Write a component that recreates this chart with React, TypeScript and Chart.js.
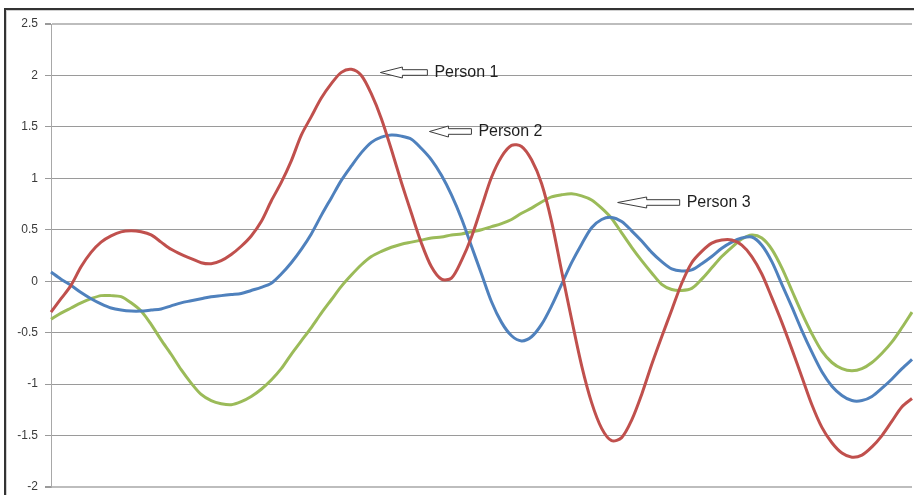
import React, { useEffect, useRef } from "react";
import { Chart, registerables } from "chart.js";

Chart.register(...registerables);

// Sample index along the horizontal axis (no labels shown on this axis)
const samples: number[] = Array.from({ length: 87 }, (_, i) => i + 1);

const person1: number[] = [
  -0.30, -0.17, -0.04, 0.14, 0.28, 0.38, 0.44, 0.48, 0.49, 0.48,
  0.45, 0.38, 0.31, 0.26, 0.22, 0.18, 0.17, 0.20, 0.26, 0.34,
  0.44, 0.58, 0.78, 0.96, 1.17, 1.42, 1.60, 1.78, 1.92, 2.03,
  2.06, 2.00, 1.82, 1.58, 1.28, 0.96, 0.66, 0.37, 0.14, 0.02,
  0.03, 0.20, 0.43, 0.72, 1.01, 1.21, 1.32, 1.31, 1.18, 0.95,
  0.58, 0.10, -0.37, -0.82, -1.18, -1.43, -1.55, -1.52, -1.35, -1.10,
  -0.81, -0.54, -0.28, -0.02, 0.18, 0.29, 0.37, 0.40, 0.40, 0.35,
  0.24, 0.07, -0.16, -0.40, -0.66, -0.93, -1.20, -1.42, -1.57, -1.67,
  -1.71, -1.69, -1.61, -1.50, -1.36, -1.22, -1.14,
];

const person2: number[] = [
  0.09, 0.02, -0.04, -0.11, -0.17, -0.22, -0.26, -0.28, -0.29, -0.29,
  -0.28, -0.27, -0.24, -0.21, -0.19, -0.17, -0.15, -0.14, -0.13, -0.12,
  -0.09, -0.06, -0.02, 0.07, 0.18, 0.31, 0.46, 0.64, 0.81, 0.98,
  1.12, 1.25, 1.35, 1.40, 1.42, 1.41, 1.38, 1.29, 1.18, 1.03,
  0.84, 0.61, 0.34, 0.07, -0.20, -0.40, -0.53, -0.58, -0.54, -0.42,
  -0.24, -0.03, 0.18, 0.36, 0.52, 0.60, 0.62, 0.58, 0.49, 0.39,
  0.28, 0.19, 0.12, 0.10, 0.11, 0.17, 0.24, 0.32, 0.38, 0.42,
  0.43, 0.35, 0.19, -0.03, -0.25, -0.48, -0.69, -0.88, -1.02, -1.11,
  -1.16, -1.16, -1.12, -1.04, -0.95, -0.85, -0.76,
];

const person3: number[] = [
  -0.37, -0.31, -0.26, -0.21, -0.17, -0.14, -0.14, -0.15, -0.21, -0.29,
  -0.42, -0.57, -0.71, -0.86, -0.99, -1.10, -1.16, -1.19, -1.20, -1.17,
  -1.12, -1.05, -0.96, -0.85, -0.71, -0.58, -0.45, -0.31, -0.18, -0.05,
  0.06, 0.16, 0.24, 0.29, 0.33, 0.36, 0.38, 0.40, 0.42, 0.43,
  0.45, 0.46, 0.48, 0.50, 0.53, 0.56, 0.60, 0.66, 0.71, 0.77,
  0.82, 0.84, 0.85, 0.83, 0.79, 0.71, 0.61, 0.47, 0.33, 0.20,
  0.08, -0.03, -0.08, -0.09, -0.07, 0.02, 0.13, 0.24, 0.33, 0.41,
  0.45, 0.42, 0.31, 0.13, -0.09, -0.31, -0.51, -0.68, -0.79, -0.85,
  -0.87, -0.85, -0.79, -0.70, -0.59, -0.45, -0.30,
];

// Callout labels: arrow tip anchored at (sample position, value)
const calloutLabels: string[] = ["Person 1", "Person 2", "Person 3"];
const calloutAt: number[] = [33.9, 38.8, 57.6];
const calloutValue: number[] = [2.03, 1.46, 0.77];
const calloutLength: number[] = [47, 42, 62];

const calloutPlugin = {
  id: "callouts",
  afterDatasetsDraw(chart: any) {
    const { ctx, scales } = chart;
    const xs = scales.x;
    const ys = scales.y;
    ctx.save();
    calloutLabels.forEach((label, i) => {
      // category index is zero-based
      const x0 = xs.getPixelForValue(calloutAt[i] - 1);
      const y = Math.round(ys.getPixelForValue(calloutValue[i])) + 0.5;
      const L = calloutLength[i];
      const head = Math.round(L * 0.46);
      const hh = 5.5;
      const sh = 2.8;
      ctx.beginPath();
      ctx.moveTo(x0, y);
      ctx.lineTo(x0 + head, y - hh);
      ctx.lineTo(x0 + head, y - sh);
      ctx.lineTo(x0 + L, y - sh);
      ctx.lineTo(x0 + L, y + sh);
      ctx.lineTo(x0 + head, y + sh);
      ctx.lineTo(x0 + head, y + hh);
      ctx.closePath();
      ctx.fillStyle = "#ffffff";
      ctx.fill();
      ctx.strokeStyle = "#3c3c3c";
      ctx.lineWidth = 1;
      ctx.stroke();
      ctx.fillStyle = "#1f1f1f";
      ctx.font = '16px "Liberation Sans", Arial, sans-serif';
      ctx.textAlign = "left";
      ctx.textBaseline = "middle";
      ctx.fillText(label, x0 + L + 7, y + 0.5);
    });
    ctx.restore();
  },
};

export default function App() {
  const canvasRef = useRef<HTMLCanvasElement | null>(null);

  useEffect(() => {
    const canvas = canvasRef.current;
    if (!canvas) return;
    const line = (data: number[], color: string) => ({
      data,
      borderColor: color,
      backgroundColor: color,
      borderWidth: 3,
      pointRadius: 0,
      tension: 0.3,
      fill: false,
    });
    const chart = new Chart(canvas, {
      type: "line",
      data: {
        labels: samples,
        datasets: [
          line(person1, "#C0504D"),
          line(person2, "#4F81BD"),
          line(person3, "#9BBB59"),
        ],
      },
      options: {
        animation: false,
        responsive: false,
        maintainAspectRatio: false,
        layout: { padding: { top: 24, right: 2, bottom: 8, left: 0 } },
        plugins: {
          legend: { display: false },
          tooltip: { enabled: false },
        },
        scales: {
          x: {
            display: false,
            offset: false,
          },
          y: {
            min: -2,
            max: 2.5,
            ticks: {
              stepSize: 0.5,
              padding: 7,
              color: "#3a3a3a",
              font: { family: '"Liberation Sans", Arial, sans-serif', size: 12 },
              callback: (v: any) => String(Math.round(Number(v) * 10) / 10),
            },
            grid: {
              color: (c: any) =>
                c.tick && (c.tick.value === 2.5 || c.tick.value === -2) ? "#bdbdbd" : "#9a9a9a",
              lineWidth: (c: any) =>
                c.tick && (c.tick.value === 2.5 || c.tick.value === -2) ? 2 : 1,
              tickLength: 6,
              tickColor: "#9a9a9a",
            },
            border: { display: true, color: "#a8a8a8", width: 1 },
            afterFit: (scale: any) => {
              scale.width = 51;
              scale.paddingTop = 0;
              scale.paddingBottom = 0;
            },
          },
        },
      },
      plugins: [calloutPlugin],
    });
    return () => chart.destroy();
  }, []);

  return (
    <div
      style={{
        position: "fixed",
        left: 0,
        top: 0,
        width: 914,
        height: 495,
        background: "#ffffff",
        overflow: "hidden",
      }}
    >
      <div
        style={{
          position: "absolute",
          left: 4,
          top: 8,
          width: 920,
          height: 500,
          borderTop: "2px solid #333333",
          borderLeft: "2px solid #333333",
          boxShadow: "inset 1px 1px 0 #d0d0d0",
        }}
      />
      <canvas
        ref={canvasRef}
        width={914}
        height={495}
        style={{ position: "absolute", left: 0, top: 0, width: 914, height: 495 }}
      />
    </div>
  );
}
